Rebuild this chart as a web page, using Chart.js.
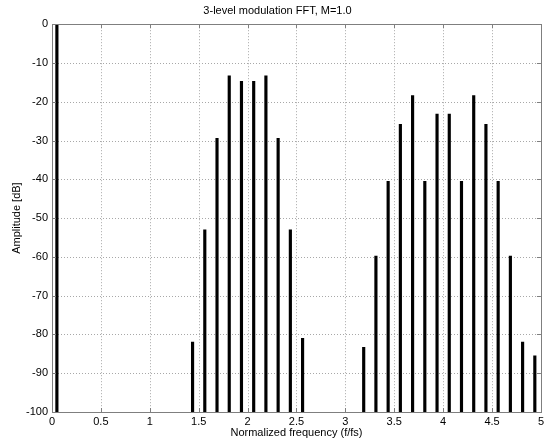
<!DOCTYPE html>
<html>
<head>
<meta charset="utf-8">
<script src="https://cdn.jsdelivr.net/npm/chart.js@4"></script>
<style>
  html, body { margin: 0; padding: 0; background: #fff; }
  #wrap { width: 547px; height: 444px; }
</style>
</head>
<body>
<div id="wrap"><canvas id="fftChart"></canvas></div>
<script>
// spectral lines, normalized frequency (f/fs)
var freqs = [0.05,
  1.4375, 1.5625, 1.6875, 1.8125, 1.9375, 2.0625, 2.1875, 2.3125, 2.4375, 2.5625,
  3.1875, 3.3125, 3.4375, 3.5625, 3.6875, 3.8125, 3.9375, 4.0625, 4.1875, 4.3125,
  4.4375, 4.5625, 4.6875, 4.8125, 4.9375];
// amplitude of each line [dB]
var ampsDb = [0,
  -82, -53, -29.4, -13.3, -14.7, -14.7, -13.3, -29.4, -53, -81,
  -83.3, -59.8, -40.5, -25.8, -18.4, -40.5, -23.2, -23.2, -40.5, -18.4,
  -25.8, -40.5, -59.8, -82, -85.5];
var floorDb = -100;
var xTicks = [0, 0.5, 1, 1.5, 2, 2.5, 3, 3.5, 4, 4.5, 5];
var yTicks = [-100, -90, -80, -70, -60, -50, -40, -30, -20, -10, 0];

var font = "'Liberation Sans', Arial, sans-serif";

var stems = freqs.map(function (f, i) {
  return { x: f, y: [floorDb, ampsDb[i]] };
});

// dotted grid, drawn under the bars
var gridPlugin = {
  id: 'dotGrid',
  beforeDatasetsDraw: function (chart) {
    var ctx = chart.ctx;
    var a = chart.chartArea;
    var xs = chart.scales.x, ys = chart.scales.y;
    ctx.save();
    ctx.strokeStyle = '#a8a8a8';
    ctx.lineWidth = 1;
    ctx.setLineDash([1, 2]);
    ctx.beginPath();
    xTicks.slice(1, -1).forEach(function (t) {
      var px = Math.round(xs.getPixelForValue(t)) + 0.5;
      ctx.moveTo(px, a.top); ctx.lineTo(px, a.bottom);
    });
    yTicks.slice(1, -1).forEach(function (t) {
      var py = Math.round(ys.getPixelForValue(t)) + 0.5;
      ctx.moveTo(a.left, py); ctx.lineTo(a.right, py);
    });
    ctx.stroke();
    ctx.restore();
  }
};

// matlab style box with inward tick marks
var boxPlugin = {
  id: 'boxTicks',
  afterDraw: function (chart) {
    var ctx = chart.ctx;
    var a = chart.chartArea;
    var xs = chart.scales.x, ys = chart.scales.y;
    ctx.save();
    ctx.strokeStyle = '#7f7f7f';
    ctx.lineWidth = 1;
    ctx.strokeRect(Math.round(a.left) + 0.5, Math.round(a.top) + 0.5,
      Math.round(a.right - a.left), Math.round(a.bottom - a.top));
    ctx.beginPath();
    xTicks.forEach(function (t) {
      var px = Math.round(xs.getPixelForValue(t)) + 0.5;
      ctx.moveTo(px, a.bottom); ctx.lineTo(px, a.bottom - 4);
      ctx.moveTo(px, a.top); ctx.lineTo(px, a.top + 4);
    });
    yTicks.forEach(function (t) {
      var py = Math.round(ys.getPixelForValue(t)) + 0.5;
      ctx.moveTo(a.left, py); ctx.lineTo(a.left + 4, py);
      ctx.moveTo(a.right, py); ctx.lineTo(a.right - 4, py);
    });
    ctx.stroke();
    ctx.restore();
  }
};

var config = {
  type: 'bar',
  data: {
    datasets: [{
      label: 'FFT',
      data: stems,
      backgroundColor: '#000',
      borderWidth: 0,
      barThickness: 2.5
    }]
  },
  options: {
    responsive: true,
    maintainAspectRatio: false,
    animation: false,
    layout: { padding: { left: 10, right: 2, top: 0, bottom: 0 } },
    plugins: {
      legend: { display: false },
      tooltip: { enabled: false },
      title: {
        display: true,
        text: '3-level modulation FFT, M=1.0',
        color: '#000',
        font: { family: font, size: 11, weight: 'normal' },
        padding: { top: 4, bottom: 7 }
      }
    },
    scales: {
      x: {
        type: 'linear',
        min: 0,
        max: 5,
        offset: false,
        afterBuildTicks: function (s) { s.ticks = xTicks.map(function (v) { return { value: v }; }); },
        afterFit: function (s) { s.height = 32; },
        ticks: {
          color: '#000',
          font: { family: font, size: 11 },
          padding: 3,
          maxRotation: 0,
          autoSkip: false,
          callback: function (v) { return String(v); }
        },
        grid: { display: false, drawTicks: false, tickLength: 0 },
        border: { display: false },
        title: {
          display: true,
          text: 'Normalized frequency (f/fs)',
          color: '#000',
          font: { family: font, size: 11 },
          padding: { top: 1, bottom: 4 }
        }
      },
      y: {
        type: 'linear',
        min: -100,
        max: 0,
        afterBuildTicks: function (s) { s.ticks = yTicks.map(function (v) { return { value: v }; }); },
        afterFit: function (s) { s.width = 42; },
        ticks: {
          color: '#000',
          font: { family: font, size: 11 },
          padding: 4,
          autoSkip: false,
          callback: function (v) { return String(v); }
        },
        grid: { display: false, drawTicks: false, tickLength: 0 },
        border: { display: false },
        title: {
          display: true,
          text: 'Amplitude [dB]',
          color: '#000',
          font: { family: font, size: 11 },
          padding: { top: 0, bottom: 0 }
        }
      }
    }
  },
  plugins: [gridPlugin, boxPlugin]
};

var ctx = document.getElementById('fftChart').getContext('2d');
var fftChart = new Chart(ctx, config);
</script>
</body>
</html>
